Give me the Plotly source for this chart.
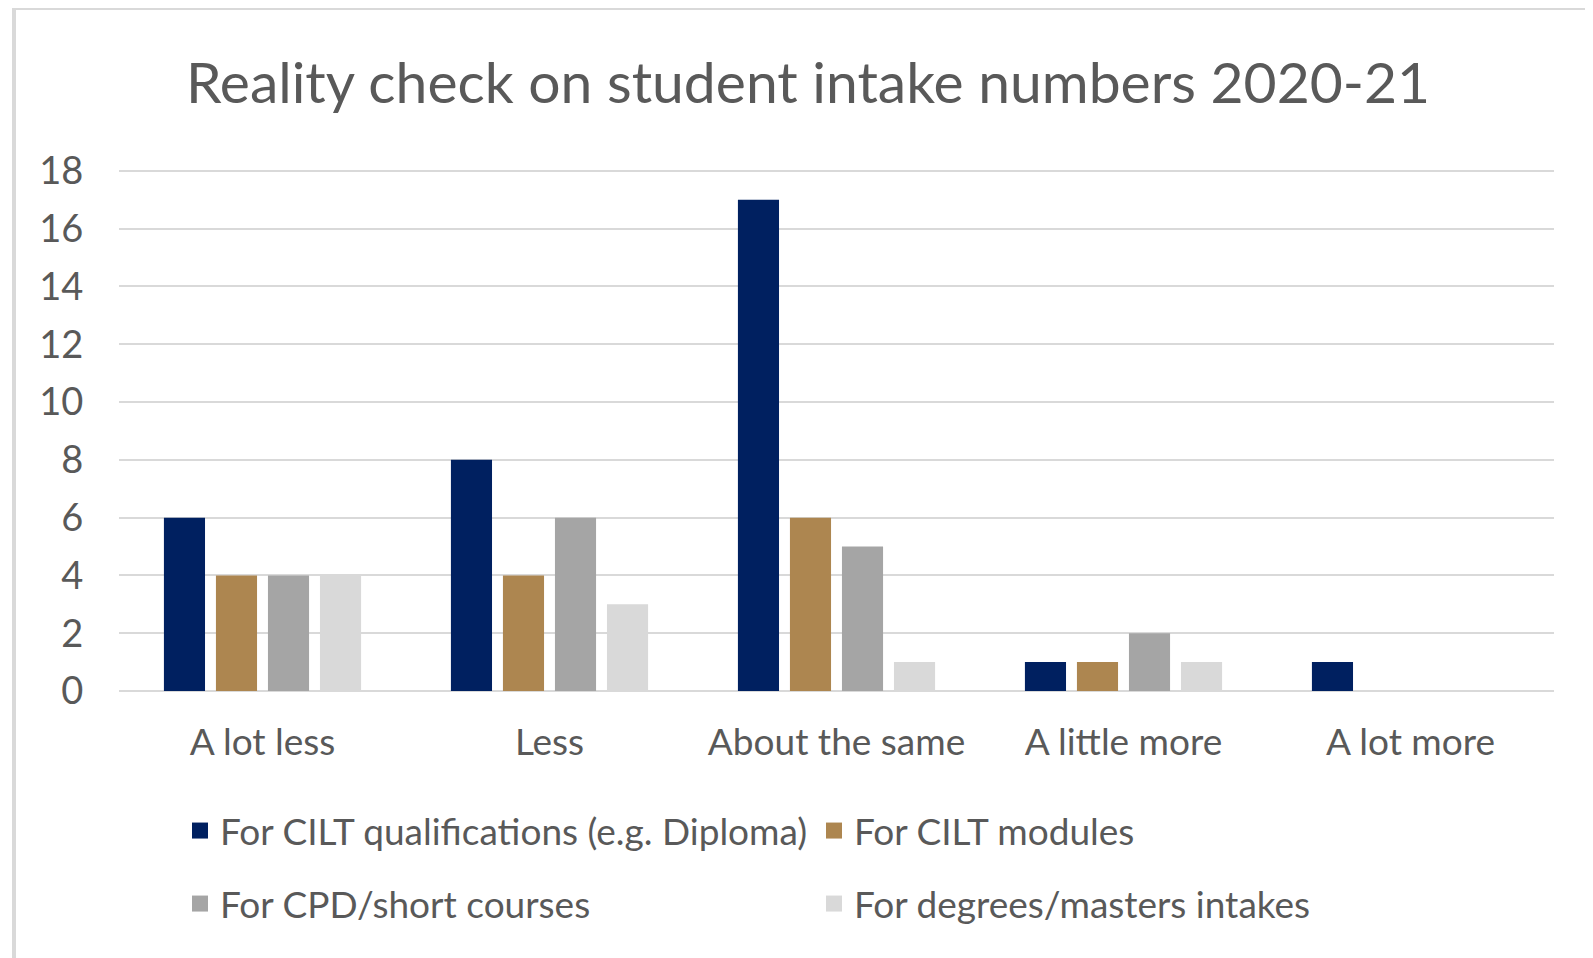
import plotly.graph_objects as go

categories = ["A lot less", "Less", "About the same", "A little more", "A lot more"]
series_names = [
    "For CILT qualifications (e.g. Diploma)",
    "For CILT modules",
    "For CPD/short courses",
    "For degrees/masters intakes",
]
qualifications = [6, 8, 17, 1, 1]
modules = [4, 4, 6, 1, 0]
cpd = [4, 6, 5, 2, 0]
degrees = [4, 3, 1, 1, 0]
y_ticks = [0, 2, 4, 6, 8, 10, 12, 14, 16, 18]

colors = ["#002060", "#AD8650", "#A5A5A5", "#D9D9D9"]
values = [qualifications, modules, cpd, degrees]
legend_ids = ["legend", "legend", "legend2", "legend2"]

# page body has an 8px margin, so figure coords = screen coords - 8
OFF = 8
W, H = 1593 - OFF, 958 - OFF
ml, mt = 119 - OFF, 168 - OFF
mr = W - (1554 - OFF)
mb = H - (691 - OFF)
pw = W - ml - mr
ph = H - mt - mb

def px_x(sx):
    return (sx - OFF - ml) / pw

def px_y(sy):
    return (H - mb - (sy - OFF)) / ph

fig = go.Figure()
for name, vals, col in zip(series_names, values, colors):
    fig.add_trace(go.Bar(x=categories, y=vals, name=name, marker=dict(color=col, line=dict(width=0)),
                         showlegend=False))
for name, col, lg in zip(series_names, colors, legend_ids):
    fig.add_trace(go.Scatter(x=[None], y=[None], mode="markers", name=name, legend=lg,
                             marker=dict(symbol="square", size=16, color=col)))

font_color = "#595959"
fam = "Lato"

fig.update_layout(
    width=W, height=H,
    margin=dict(l=ml, r=mr, t=mt, b=mb),
    paper_bgcolor="white", plot_bgcolor="white",
    barmode="group", bargap=0.275, bargroupgap=0.21,
    font=dict(family=fam, color=font_color, size=37),
    title=dict(text="Reality check on student intake numbers 2020-21",
               x=(808 - OFF) / W, xanchor="center", xref="container",
               y=1 - (83 - OFF) / H, yanchor="middle", yref="container",
               font=dict(family=fam, size=57, color=font_color)),
    xaxis=dict(showgrid=False, showline=False, zeroline=False,
               ticks="outside", ticklen=19, tickcolor="rgba(0,0,0,0)",
               tickfont=dict(family=fam, size=37, color=font_color)),
    yaxis=dict(range=[0, 18.1], tickvals=y_ticks, showgrid=True, gridcolor="#D9D9D9", gridwidth=2,
               zeroline=True, zerolinecolor="#D9D9D9", zerolinewidth=2, showline=False,
               ticks="outside", ticklen=27, tickcolor="rgba(0,0,0,0)",
               tickfont=dict(family=fam, size=38, color=font_color)),
    legend=dict(orientation="h", x=px_x(180), xanchor="left", y=px_y(831), yanchor="middle",
                entrywidth=589, entrywidthmode="pixels", bgcolor="rgba(0,0,0,0)",
                font=dict(family=fam, size=37, color=font_color)),
    legend2=dict(orientation="h", x=px_x(180), xanchor="left", y=px_y(904), yanchor="middle",
                 entrywidth=589, entrywidthmode="pixels", bgcolor="rgba(0,0,0,0)",
                 font=dict(family=fam, size=37, color=font_color)),
    shapes=[dict(type="rect", xref="paper", yref="paper",
                 x0=px_x(14), x1=px_x(1593 + 20), y0=px_y(958 + 20), y1=px_y(8),
                 line=dict(color="#D9D9D9", width=4), fillcolor="rgba(0,0,0,0)", layer="below")],
)

fig.write_html("out.html")
